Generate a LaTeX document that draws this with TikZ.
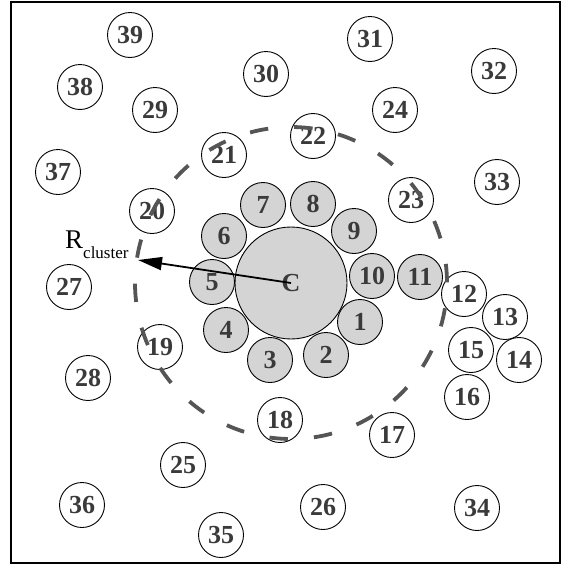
\documentclass[tikz,border=0pt]{standalone}
\usepackage{fontspec}
\setmainfont{Liberation Serif}
\usetikzlibrary{arrows.meta}
\definecolor{numc}{HTML}{3A3A3A}
\definecolor{cellgray}{HTML}{D4D4D4}
\definecolor{dashc}{HTML}{555555}
\begin{document}
\begin{tikzpicture}[x=1pt,y=-1pt,
  nd/.style={circle,draw=black,line width=0.9pt,minimum size=45pt,inner sep=0pt,
    font=\fontsize{26}{26}\selectfont\bfseries,text=numc},
  gr/.style={nd,fill=cellgray},
  dsh/.style={line width=3.8pt,draw=dashc},
  arr/.style={line width=1.8pt,-{Triangle[length=24pt,width=13pt]}}]
\useasboundingbox (0,0) rectangle (561,565);
\draw[line width=2pt] (10.5,2) rectangle (559.5,562.5);
% central cell
\node[gr,minimum size=112pt] (C) at (291,283) {C};
% gray ring
\node[gr] (n1) at (360,322) {1};
\node[gr] (n2) at (326,355) {2};
\node[gr] (n3) at (270,360) {3};
\node[gr] (n4) at (226,330) {4};
\node[gr] (n5) at (212,282) {5};
\node[gr] (n6) at (224,236) {6};
\node[gr] (n7) at (263,205) {7};
\node[gr] (n8) at (313,204) {8};
\node[gr] (n9) at (354,231) {9};
\node[gr] (n10) at (372,276) {10};
\node[gr] (n11) at (420,277) {11};
% white nodes
\node[nd] (n12) at (464,294) {12};
\node[nd] (n13) at (505,317) {13};
\node[nd] (n14) at (519,360) {14};
\node[nd] (n15) at (471,350) {15};
\node[nd] (n16) at (467,397) {16};
\node[nd] (n17) at (392,435) {17};
\node[nd] (n18) at (280,420) {18};
\node[nd] (n19) at (160,347) {19};
\node[nd] (n20) at (152,211) {20};
\node[nd] (n21) at (224,155) {21};
\node[nd] (n22) at (313,136) {22};
\node[nd] (n23) at (411,200) {23};
\node[nd] (n24) at (395,110) {24};
\node[nd] (n25) at (183,465) {25};
\node[nd] (n26) at (323,507) {26};
\node[nd] (n27) at (69,287) {27};
\node[nd] (n28) at (88,378) {28};
\node[nd] (n29) at (155,110) {29};
\node[nd] (n30) at (266,74) {30};
\node[nd] (n31) at (370,39) {31};
\node[nd] (n32) at (494,71) {32};
\node[nd] (n33) at (497,182) {33};
\node[nd] (n34) at (477,508) {34};
\node[nd] (n35) at (221,535) {35};
\node[nd] (n36) at (82,505) {36};
\node[nd] (n37) at (58,172) {37};
\node[nd] (n38) at (80,87) {38};
\node[nd] (n39) at (130,35) {39};
% label and arrow
\node[anchor=base west,inner sep=0pt] (R) at (65,248)
  {\fontsize{27}{27}\selectfont R\raisebox{-10pt}{\fontsize{17}{17}\selectfont cluster}};
\coordinate (Rtip) at (138,260);
\draw[arr] (C.center) -- (Rtip);
% dashed cluster boundary
\foreach \k in {0,...,21}{
  \pgfmathsetmacro{\a}{173+16.36*\k}
  \draw[dsh] ([shift={(\a:156)}]C.center) arc[start angle=\a, delta angle=6.8, radius=156];
}
\end{tikzpicture}
\end{document}
